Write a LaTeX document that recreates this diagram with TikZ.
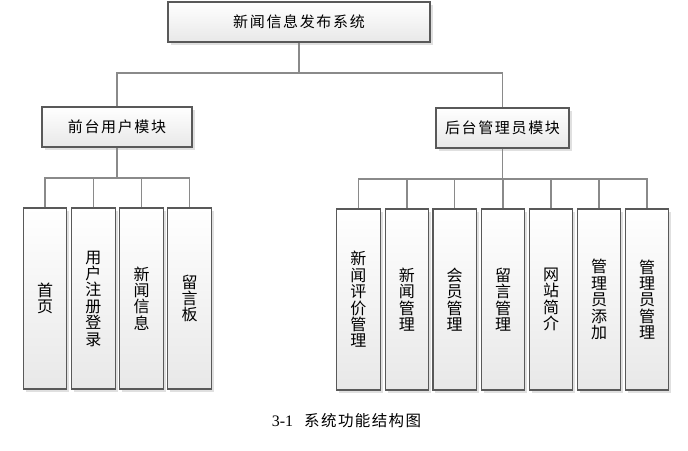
\documentclass[tikz,border=0pt]{standalone}
\usepackage{fontspec}
\usetikzlibrary{shadows}
\newfontfamily\cjkh{Noto Sans CJK SC}[LetterSpace=11]
\newfontfamily\cjkv{Noto Sans CJK SC}
\newfontfamily\cjkcap{Noto Sans CJK SC}[LetterSpace=9]
\newfontfamily\latinserif{Liberation Serif}
\definecolor{boxborder}{HTML}{595959}
\definecolor{boxbot}{HTML}{E8E8E8}
\definecolor{linegray}{HTML}{8A8A8A}
\tikzset{
  box/.style={draw=boxborder, line width=1.1pt, top color=white, bottom color=boxbot,
    inner sep=0pt, text=black,
    drop shadow={shadow xshift=2.5pt, shadow yshift=-2.5pt, fill=black, opacity=0.12}},
  hbox/.style={box, font=\cjkh\fontsize{15}{16}\selectfont},
  vbox/.style={box, align=center, minimum width=43.5pt, minimum height=181pt,
    font=\cjkv\fontsize{16}{16.4}\selectfont},
  conn/.style={draw=linegray, line width=1.4pt}
}
\begin{document}
\begin{tikzpicture}[x=1pt,y=-1pt]
\useasboundingbox[fill=white] (0,0) rectangle (688,450);
% top level
\node[hbox, minimum width=262pt, minimum height=40pt] (top) at (299,22) {新闻信息发布系统};
\node[hbox, minimum width=150pt, minimum height=40pt] (lm) at (117,127) {前台用户模块};
\node[hbox, minimum width=133pt, minimum height=40pt] (rm) at (502.5,128) {后台管理员模块};
\coordinate (j0) at (0,73);
\coordinate (lb) at (0,178);
\coordinate (rb) at (0,179);
% left children
\node[vbox] (l1) at (45,298.5) {首\\页};
\node[vbox] (l2) at (93.4,298.5) {用\\户\\注\\册\\登\\录};
\node[vbox] (l3) at (141.5,298.5) {新\\闻\\信\\息};
\node[vbox] (l4) at (189.5,298.5) {留\\言\\板};
% right children
\node[vbox] (r1) at (358.3,299.5) {新\\闻\\评\\价\\管\\理};
\node[vbox] (r2) at (406.9,299.5) {新\\闻\\管\\理};
\node[vbox] (r3) at (454.7,299.5) {会\\员\\管\\理};
\node[vbox] (r4) at (503,299.5) {留\\言\\管\\理};
\node[vbox] (r5) at (551,299.5) {网\\站\\简\\介};
\node[vbox] (r6) at (599,299.5) {管\\理\\员\\添\\加};
\node[vbox] (r7) at (647,299.5) {管\\理\\员\\管\\理};
% connectors
\draw[conn] (top.south) -- (top.south |- j0);
\draw[conn] (lm.north) |- (top.south |- j0) -| (rm.north);
\draw[conn] (lm.south) -- (lm.south |- lb);
\draw[conn] (l1.north) |- (l4.north |- lb) -- (l4.north);
\foreach \n in {l2,l3} \draw[conn] (\n.north) -- (\n.north |- lb);
\draw[conn] (rm.south) -- (rm.south |- rb);
\draw[conn] (r1.north) |- (r7.north |- rb) -- (r7.north);
\foreach \n in {r2,r3,r4,r5,r6} \draw[conn] (\n.north) -- (\n.north |- rb);
% caption
\node[inner sep=0pt] (cap) at (346.5,421) {\latinserif\fontsize{16}{16}\selectfont 3-1\hspace{11pt}\cjkcap\fontsize{15.5}{16}\selectfont 系统功能结构图};
\end{tikzpicture}
\end{document}
